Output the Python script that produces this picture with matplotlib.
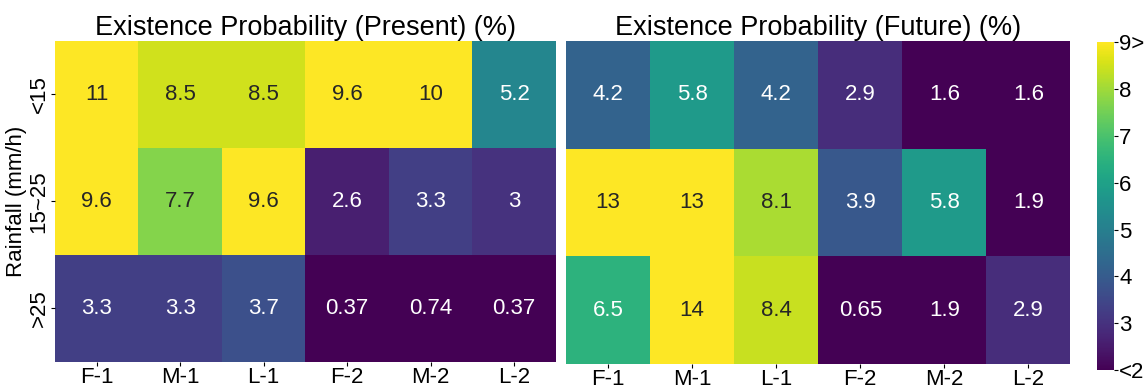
import numpy as np
import pandas as pd
import matplotlib
matplotlib.use("Agg")
import matplotlib.pyplot as plt
import seaborn as sns

plt.rcParams['font.family'] = ['Liberation Sans', 'DejaVu Sans']

cols = ["F-1", "M-1", "L-1", "F-2", "M-2", "L-2"]
rows = ["<15", "15~25", ">25"]

present = [[11, 8.5, 8.5, 9.6, 10, 5.2],
           [9.6, 7.7, 9.6, 2.6, 3.3, 3],
           [3.3, 3.3, 3.7, 0.37, 0.74, 0.37]]
future = [[4.2, 5.8, 4.2, 2.9, 1.6, 1.6],
          [13, 13, 8.1, 3.9, 5.8, 1.9],
          [6.5, 14, 8.4, 0.65, 1.9, 2.9]]

cbar_ticks = [2, 3, 4, 5, 6, 7, 8, 9]
cbar_labels = ["<2", "3", "4", "5", "6", "7", "8", "9>"]

df_p = pd.DataFrame(present, index=rows, columns=cols)
df_f = pd.DataFrame(future, index=rows, columns=cols)

fig = plt.figure(figsize=(11.46, 3.9), dpi=100)
ax1 = fig.add_axes([0.048, 0.072, 0.437, 0.823])
ax2 = fig.add_axes([0.494, 0.067, 0.44, 0.828])
cax = fig.add_axes([0.957, 0.051, 0.0148, 0.841])

kw = dict(cmap="viridis", vmin=2, vmax=9, annot=True, fmt=".2g",
          annot_kws={"fontsize": 16})
sns.heatmap(df_p, ax=ax1, cbar=False, **kw)
sns.heatmap(df_f, ax=ax2, cbar_ax=cax, **kw)

ax1.set_title("Existence Probability (Present) (%)", fontsize=19.5, pad=3)
ax2.set_title("Existence Probability (Future) (%)", fontsize=19.5, pad=3)

for ax in (ax1, ax2):
    ax.set_xticklabels(cols, fontsize=16, rotation=0)
    ax.tick_params(axis='both', length=3, pad=1)
ax1.set_yticklabels(rows, fontsize=16, rotation=90, va='center')
ax1.set_ylabel("Rainfall (mm/h)", fontsize=16, labelpad=1)
ax2.set_yticks([])
ax2.set_ylabel("")

cb = ax2.collections[0].colorbar
cb.set_ticks(cbar_ticks)
cb.set_ticklabels(cbar_labels)
cb.ax.tick_params(labelsize=16, length=3, pad=1)
cb.outline.set_visible(False)

fig.savefig("out.png", dpi=100)
